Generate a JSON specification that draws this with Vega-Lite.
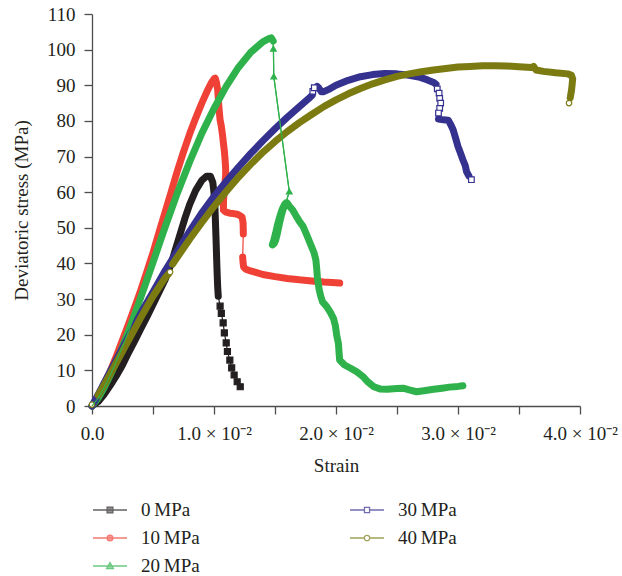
{
  "$schema": "https://vega.github.io/schema/vega-lite/v6.json",
  "width": 488,
  "height": 392,
  "autosize": "none",
  "padding": {"left": 92, "top": 14, "right": 42, "bottom": 170},
  "background": "white",
  "config": {
    "view": {"stroke": null},
    "font": "Liberation Serif",
    "axis": {
      "grid": false,
      "domainColor": "#4d4d4d",
      "domainWidth": 1.3,
      "tickColor": "#4d4d4d",
      "tickWidth": 1.3,
      "tickSize": 8,
      "labelFont": "Liberation Serif",
      "labelFontSize": 19,
      "labelColor": "#231f20",
      "titleFont": "Liberation Serif",
      "titleFontSize": 19,
      "titleFontWeight": "normal",
      "titleColor": "#231f20"
    },
    "legend": {
      "title": null, "orient": "none", "legendX": 0, "legendY": 478,
      "columns": 2, "columnPadding": 147, "rowPadding": -1, "padding": 0,
      "symbolSize": 1156, "symbolStrokeWidth": 1.3, "labelOffset": 13,
      "labelFont": "Liberation Serif", "labelFontSize": 19, "labelColor": "#231f20", "labelLimit": 0
    }
  },
  "data": {
    "values": [
      {"series": "0\u2009MPa", "seg": 1, "strain": 0, "stress": 0},
      {"series": "0\u2009MPa", "seg": 1, "strain": 0.0005, "stress": 1.2},
      {"series": "0\u2009MPa", "seg": 1, "strain": 0.001, "stress": 3.3},
      {"series": "0\u2009MPa", "seg": 1, "strain": 0.0015, "stress": 5.8},
      {"series": "0\u2009MPa", "seg": 1, "strain": 0.002, "stress": 8.5},
      {"series": "0\u2009MPa", "seg": 1, "strain": 0.0025, "stress": 11.5},
      {"series": "0\u2009MPa", "seg": 1, "strain": 0.003, "stress": 15},
      {"series": "0\u2009MPa", "seg": 1, "strain": 0.0035, "stress": 18.3},
      {"series": "0\u2009MPa", "seg": 1, "strain": 0.004, "stress": 21.7},
      {"series": "0\u2009MPa", "seg": 1, "strain": 0.0045, "stress": 25},
      {"series": "0\u2009MPa", "seg": 1, "strain": 0.005, "stress": 28.5},
      {"series": "0\u2009MPa", "seg": 1, "strain": 0.0055, "stress": 32},
      {"series": "0\u2009MPa", "seg": 1, "strain": 0.006, "stress": 35.5},
      {"series": "0\u2009MPa", "seg": 1, "strain": 0.0065, "stress": 40},
      {"series": "0\u2009MPa", "seg": 1, "strain": 0.0068, "stress": 43.5},
      {"series": "0\u2009MPa", "seg": 1, "strain": 0.0072, "stress": 48},
      {"series": "0\u2009MPa", "seg": 1, "strain": 0.0076, "stress": 52.5},
      {"series": "0\u2009MPa", "seg": 1, "strain": 0.008, "stress": 56.5},
      {"series": "0\u2009MPa", "seg": 1, "strain": 0.0085, "stress": 60.5},
      {"series": "0\u2009MPa", "seg": 1, "strain": 0.009, "stress": 63.3},
      {"series": "0\u2009MPa", "seg": 1, "strain": 0.0094, "stress": 64.5},
      {"series": "0\u2009MPa", "seg": 1, "strain": 0.0097, "stress": 64.5},
      {"series": "0\u2009MPa", "seg": 1, "strain": 0.0099, "stress": 62.8},
      {"series": "0\u2009MPa", "seg": 1, "strain": 0.01, "stress": 59.8},
      {"series": "0\u2009MPa", "seg": 1, "strain": 0.01008, "stress": 55.5},
      {"series": "0\u2009MPa", "seg": 1, "strain": 0.01013, "stress": 50.5},
      {"series": "0\u2009MPa", "seg": 1, "strain": 0.01018, "stress": 45.5},
      {"series": "0\u2009MPa", "seg": 1, "strain": 0.01022, "stress": 41},
      {"series": "0\u2009MPa", "seg": 1, "strain": 0.01026, "stress": 37},
      {"series": "0\u2009MPa", "seg": 1, "strain": 0.0103, "stress": 33.5},
      {"series": "0\u2009MPa", "seg": 1, "strain": 0.01035, "stress": 30.8},
      {"series": "0\u2009MPa", "seg": 2, "strain": 0.0105, "stress": 28},
      {"series": "0\u2009MPa", "seg": 3, "strain": 0.0106, "stress": 26},
      {"series": "0\u2009MPa", "seg": 4, "strain": 0.01075, "stress": 23.3},
      {"series": "0\u2009MPa", "seg": 5, "strain": 0.01085, "stress": 20.5},
      {"series": "0\u2009MPa", "seg": 6, "strain": 0.011, "stress": 17.7},
      {"series": "0\u2009MPa", "seg": 7, "strain": 0.0111, "stress": 15.3},
      {"series": "0\u2009MPa", "seg": 8, "strain": 0.0113, "stress": 12.9},
      {"series": "0\u2009MPa", "seg": 9, "strain": 0.01145, "stress": 10.7},
      {"series": "0\u2009MPa", "seg": 10, "strain": 0.01165, "stress": 8.7},
      {"series": "0\u2009MPa", "seg": 11, "strain": 0.0119, "stress": 6.8},
      {"series": "0\u2009MPa", "seg": 12, "strain": 0.01215, "stress": 5.4},

      {"series": "10\u2009MPa", "seg": 1, "strain": 0, "stress": 0},
      {"series": "10\u2009MPa", "seg": 1, "strain": 0.0005, "stress": 2.8},
      {"series": "10\u2009MPa", "seg": 1, "strain": 0.001, "stress": 6},
      {"series": "10\u2009MPa", "seg": 1, "strain": 0.0015, "stress": 9.8},
      {"series": "10\u2009MPa", "seg": 1, "strain": 0.002, "stress": 14},
      {"series": "10\u2009MPa", "seg": 1, "strain": 0.0025, "stress": 18.5},
      {"series": "10\u2009MPa", "seg": 1, "strain": 0.003, "stress": 23},
      {"series": "10\u2009MPa", "seg": 1, "strain": 0.0035, "stress": 27.7},
      {"series": "10\u2009MPa", "seg": 1, "strain": 0.004, "stress": 32.5},
      {"series": "10\u2009MPa", "seg": 1, "strain": 0.0045, "stress": 37.7},
      {"series": "10\u2009MPa", "seg": 1, "strain": 0.005, "stress": 43},
      {"series": "10\u2009MPa", "seg": 1, "strain": 0.00555, "stress": 49.4},
      {"series": "10\u2009MPa", "seg": 1, "strain": 0.006, "stress": 54.5},
      {"series": "10\u2009MPa", "seg": 1, "strain": 0.0065, "stress": 60.2},
      {"series": "10\u2009MPa", "seg": 1, "strain": 0.007, "stress": 66},
      {"series": "10\u2009MPa", "seg": 1, "strain": 0.0075, "stress": 71.3},
      {"series": "10\u2009MPa", "seg": 1, "strain": 0.008, "stress": 76.3},
      {"series": "10\u2009MPa", "seg": 1, "strain": 0.0085, "stress": 80.8},
      {"series": "10\u2009MPa", "seg": 1, "strain": 0.009, "stress": 85},
      {"series": "10\u2009MPa", "seg": 1, "strain": 0.0095, "stress": 88.8},
      {"series": "10\u2009MPa", "seg": 1, "strain": 0.0098, "stress": 90.8},
      {"series": "10\u2009MPa", "seg": 1, "strain": 0.01, "stress": 91.8},
      {"series": "10\u2009MPa", "seg": 1, "strain": 0.0101, "stress": 92},
      {"series": "10\u2009MPa", "seg": 1, "strain": 0.0102, "stress": 90.8},
      {"series": "10\u2009MPa", "seg": 1, "strain": 0.0103, "stress": 88.8},
      {"series": "10\u2009MPa", "seg": 1, "strain": 0.01035, "stress": 86.5},
      {"series": "10\u2009MPa", "seg": 1, "strain": 0.0104, "stress": 84},
      {"series": "10\u2009MPa", "seg": 1, "strain": 0.01045, "stress": 82},
      {"series": "10\u2009MPa", "seg": 1, "strain": 0.0105, "stress": 80.3},
      {"series": "10\u2009MPa", "seg": 1, "strain": 0.0106, "stress": 78.5},
      {"series": "10\u2009MPa", "seg": 1, "strain": 0.0107, "stress": 76},
      {"series": "10\u2009MPa", "seg": 1, "strain": 0.01077, "stress": 73.8},
      {"series": "10\u2009MPa", "seg": 1, "strain": 0.01085, "stress": 71.5},
      {"series": "10\u2009MPa", "seg": 1, "strain": 0.0109, "stress": 69.5},
      {"series": "10\u2009MPa", "seg": 1, "strain": 0.01095, "stress": 67},
      {"series": "10\u2009MPa", "seg": 1, "strain": 0.01096, "stress": 65},
      {"series": "10\u2009MPa", "seg": 1, "strain": 0.0109, "stress": 62.5},
      {"series": "10\u2009MPa", "seg": 1, "strain": 0.01082, "stress": 60},
      {"series": "10\u2009MPa", "seg": 1, "strain": 0.01078, "stress": 57.5},
      {"series": "10\u2009MPa", "seg": 1, "strain": 0.01077, "stress": 55},
      {"series": "10\u2009MPa", "seg": 1, "strain": 0.0109, "stress": 54.6},
      {"series": "10\u2009MPa", "seg": 1, "strain": 0.011, "stress": 54.4},
      {"series": "10\u2009MPa", "seg": 1, "strain": 0.0113, "stress": 54.1},
      {"series": "10\u2009MPa", "seg": 1, "strain": 0.0116, "stress": 54},
      {"series": "10\u2009MPa", "seg": 1, "strain": 0.0119, "stress": 53.8},
      {"series": "10\u2009MPa", "seg": 1, "strain": 0.0121, "stress": 53.5},
      {"series": "10\u2009MPa", "seg": 1, "strain": 0.0123, "stress": 53},
      {"series": "10\u2009MPa", "seg": 1, "strain": 0.01238, "stress": 51.5},
      {"series": "10\u2009MPa", "seg": 1, "strain": 0.0124, "stress": 49.5},
      {"series": "10\u2009MPa", "seg": 1, "strain": 0.0124, "stress": 48.3},
      {"series": "10\u2009MPa", "seg": 2, "strain": 0.01235, "stress": 41.8},
      {"series": "10\u2009MPa", "seg": 2, "strain": 0.01238, "stress": 40.3},
      {"series": "10\u2009MPa", "seg": 2, "strain": 0.01243, "stress": 39},
      {"series": "10\u2009MPa", "seg": 2, "strain": 0.0126, "stress": 38.4},
      {"series": "10\u2009MPa", "seg": 2, "strain": 0.013, "stress": 37.9},
      {"series": "10\u2009MPa", "seg": 2, "strain": 0.0135, "stress": 37.4},
      {"series": "10\u2009MPa", "seg": 2, "strain": 0.014, "stress": 36.9},
      {"series": "10\u2009MPa", "seg": 2, "strain": 0.015, "stress": 36.3},
      {"series": "10\u2009MPa", "seg": 2, "strain": 0.016, "stress": 35.8},
      {"series": "10\u2009MPa", "seg": 2, "strain": 0.017, "stress": 35.4},
      {"series": "10\u2009MPa", "seg": 2, "strain": 0.018, "stress": 35.1},
      {"series": "10\u2009MPa", "seg": 2, "strain": 0.019, "stress": 34.8},
      {"series": "10\u2009MPa", "seg": 2, "strain": 0.02, "stress": 34.6},
      {"series": "10\u2009MPa", "seg": 2, "strain": 0.0203, "stress": 34.5},

      {"series": "20\u2009MPa", "seg": 1, "strain": 0, "stress": 0},
      {"series": "20\u2009MPa", "seg": 1, "strain": 0.0005, "stress": 2.2},
      {"series": "20\u2009MPa", "seg": 1, "strain": 0.001, "stress": 5.2},
      {"series": "20\u2009MPa", "seg": 1, "strain": 0.0015, "stress": 8.7},
      {"series": "20\u2009MPa", "seg": 1, "strain": 0.002, "stress": 12.5},
      {"series": "20\u2009MPa", "seg": 1, "strain": 0.0025, "stress": 16.7},
      {"series": "20\u2009MPa", "seg": 1, "strain": 0.003, "stress": 21},
      {"series": "20\u2009MPa", "seg": 1, "strain": 0.0035, "stress": 25.7},
      {"series": "20\u2009MPa", "seg": 1, "strain": 0.004, "stress": 30.5},
      {"series": "20\u2009MPa", "seg": 1, "strain": 0.0045, "stress": 35.4},
      {"series": "20\u2009MPa", "seg": 1, "strain": 0.005, "stress": 40.3},
      {"series": "20\u2009MPa", "seg": 1, "strain": 0.0057, "stress": 47.3},
      {"series": "20\u2009MPa", "seg": 1, "strain": 0.006, "stress": 50.3},
      {"series": "20\u2009MPa", "seg": 1, "strain": 0.007, "stress": 59.8},
      {"series": "20\u2009MPa", "seg": 1, "strain": 0.008, "stress": 68.5},
      {"series": "20\u2009MPa", "seg": 1, "strain": 0.009, "stress": 76.5},
      {"series": "20\u2009MPa", "seg": 1, "strain": 0.01, "stress": 83.5},
      {"series": "20\u2009MPa", "seg": 1, "strain": 0.011, "stress": 89.7},
      {"series": "20\u2009MPa", "seg": 1, "strain": 0.012, "stress": 95},
      {"series": "20\u2009MPa", "seg": 1, "strain": 0.013, "stress": 99.2},
      {"series": "20\u2009MPa", "seg": 1, "strain": 0.014, "stress": 102.2},
      {"series": "20\u2009MPa", "seg": 1, "strain": 0.0145, "stress": 103.1},
      {"series": "20\u2009MPa", "seg": 1, "strain": 0.0147, "stress": 103.3},
      {"series": "20\u2009MPa", "seg": 1, "strain": 0.01485, "stress": 102.4},
      {"series": "20\u2009MPa", "seg": 2, "strain": 0.01487, "stress": 100.3},
      {"series": "20\u2009MPa", "seg": 3, "strain": 0.0149, "stress": 92.5},
      {"series": "20\u2009MPa", "seg": 4, "strain": 0.01617, "stress": 60.2},
      {"series": "20\u2009MPa", "seg": 5, "strain": 0.0159, "stress": 57},
      {"series": "20\u2009MPa", "seg": 5, "strain": 0.01575, "stress": 56},
      {"series": "20\u2009MPa", "seg": 5, "strain": 0.0156, "stress": 54.5},
      {"series": "20\u2009MPa", "seg": 5, "strain": 0.01545, "stress": 52.5},
      {"series": "20\u2009MPa", "seg": 5, "strain": 0.01532, "stress": 50.5},
      {"series": "20\u2009MPa", "seg": 5, "strain": 0.0152, "stress": 48.5},
      {"series": "20\u2009MPa", "seg": 5, "strain": 0.01505, "stress": 46.5},
      {"series": "20\u2009MPa", "seg": 5, "strain": 0.01492, "stress": 45.5},
      {"series": "20\u2009MPa", "seg": 5, "strain": 0.01478, "stress": 45.2},
      {"series": "20\u2009MPa", "seg": 5, "strain": 0.0149, "stress": 46.5},
      {"series": "20\u2009MPa", "seg": 5, "strain": 0.01505, "stress": 48.5},
      {"series": "20\u2009MPa", "seg": 5, "strain": 0.0152, "stress": 50.8},
      {"series": "20\u2009MPa", "seg": 5, "strain": 0.0154, "stress": 53.2},
      {"series": "20\u2009MPa", "seg": 5, "strain": 0.0156, "stress": 55.3},
      {"series": "20\u2009MPa", "seg": 5, "strain": 0.0158, "stress": 56.7},
      {"series": "20\u2009MPa", "seg": 5, "strain": 0.016, "stress": 57},
      {"series": "20\u2009MPa", "seg": 5, "strain": 0.0162, "stress": 56},
      {"series": "20\u2009MPa", "seg": 5, "strain": 0.01645, "stress": 55},
      {"series": "20\u2009MPa", "seg": 5, "strain": 0.0167, "stress": 53.5},
      {"series": "20\u2009MPa", "seg": 5, "strain": 0.017, "stress": 51.8},
      {"series": "20\u2009MPa", "seg": 5, "strain": 0.0173, "stress": 50.4},
      {"series": "20\u2009MPa", "seg": 5, "strain": 0.0176, "stress": 48},
      {"series": "20\u2009MPa", "seg": 5, "strain": 0.0179, "stress": 45.5},
      {"series": "20\u2009MPa", "seg": 5, "strain": 0.0182, "stress": 43},
      {"series": "20\u2009MPa", "seg": 5, "strain": 0.01835, "stress": 41},
      {"series": "20\u2009MPa", "seg": 5, "strain": 0.01842, "stress": 38.5},
      {"series": "20\u2009MPa", "seg": 5, "strain": 0.01847, "stress": 36.3},
      {"series": "20\u2009MPa", "seg": 5, "strain": 0.0186, "stress": 33},
      {"series": "20\u2009MPa", "seg": 5, "strain": 0.01875, "stress": 30.8},
      {"series": "20\u2009MPa", "seg": 5, "strain": 0.0189, "stress": 29.2},
      {"series": "20\u2009MPa", "seg": 5, "strain": 0.01924, "stress": 27.9},
      {"series": "20\u2009MPa", "seg": 5, "strain": 0.01955, "stress": 26.2},
      {"series": "20\u2009MPa", "seg": 5, "strain": 0.0198, "stress": 24.5},
      {"series": "20\u2009MPa", "seg": 5, "strain": 0.01995, "stress": 22.5},
      {"series": "20\u2009MPa", "seg": 5, "strain": 0.02005, "stress": 20},
      {"series": "20\u2009MPa", "seg": 5, "strain": 0.0202, "stress": 17.5},
      {"series": "20\u2009MPa", "seg": 5, "strain": 0.02025, "stress": 15},
      {"series": "20\u2009MPa", "seg": 5, "strain": 0.0203, "stress": 12.9},
      {"series": "20\u2009MPa", "seg": 5, "strain": 0.0207, "stress": 11.5},
      {"series": "20\u2009MPa", "seg": 5, "strain": 0.0212, "stress": 10.6},
      {"series": "20\u2009MPa", "seg": 5, "strain": 0.0217, "stress": 9.6},
      {"series": "20\u2009MPa", "seg": 5, "strain": 0.0222, "stress": 8.3},
      {"series": "20\u2009MPa", "seg": 5, "strain": 0.0226, "stress": 6.8},
      {"series": "20\u2009MPa", "seg": 5, "strain": 0.0231, "stress": 5.4},
      {"series": "20\u2009MPa", "seg": 5, "strain": 0.0236, "stress": 4.8},
      {"series": "20\u2009MPa", "seg": 5, "strain": 0.0242, "stress": 4.7},
      {"series": "20\u2009MPa", "seg": 5, "strain": 0.025, "stress": 4.9},
      {"series": "20\u2009MPa", "seg": 5, "strain": 0.0255, "stress": 5},
      {"series": "20\u2009MPa", "seg": 5, "strain": 0.026, "stress": 4.5},
      {"series": "20\u2009MPa", "seg": 5, "strain": 0.0266, "stress": 4},
      {"series": "20\u2009MPa", "seg": 5, "strain": 0.0272, "stress": 4.3},
      {"series": "20\u2009MPa", "seg": 5, "strain": 0.028, "stress": 4.7},
      {"series": "20\u2009MPa", "seg": 5, "strain": 0.0287, "stress": 5},
      {"series": "20\u2009MPa", "seg": 5, "strain": 0.0293, "stress": 5.3},
      {"series": "20\u2009MPa", "seg": 5, "strain": 0.03, "stress": 5.5},
      {"series": "20\u2009MPa", "seg": 5, "strain": 0.0304, "stress": 5.7},

      {"series": "30\u2009MPa", "seg": 1, "strain": 0, "stress": 0},
      {"series": "30\u2009MPa", "seg": 1, "strain": 0.0005, "stress": 3.2},
      {"series": "30\u2009MPa", "seg": 1, "strain": 0.001, "stress": 6.5},
      {"series": "30\u2009MPa", "seg": 1, "strain": 0.0015, "stress": 9.8},
      {"series": "30\u2009MPa", "seg": 1, "strain": 0.002, "stress": 13},
      {"series": "30\u2009MPa", "seg": 1, "strain": 0.003, "stress": 19.5},
      {"series": "30\u2009MPa", "seg": 1, "strain": 0.004, "stress": 26},
      {"series": "30\u2009MPa", "seg": 1, "strain": 0.005, "stress": 32},
      {"series": "30\u2009MPa", "seg": 1, "strain": 0.006, "stress": 38},
      {"series": "30\u2009MPa", "seg": 1, "strain": 0.007, "stress": 43.5},
      {"series": "30\u2009MPa", "seg": 1, "strain": 0.008, "stress": 49},
      {"series": "30\u2009MPa", "seg": 1, "strain": 0.009, "stress": 54.2},
      {"series": "30\u2009MPa", "seg": 1, "strain": 0.01, "stress": 58.8},
      {"series": "30\u2009MPa", "seg": 1, "strain": 0.011, "stress": 63},
      {"series": "30\u2009MPa", "seg": 1, "strain": 0.012, "stress": 67},
      {"series": "30\u2009MPa", "seg": 1, "strain": 0.013, "stress": 70.8},
      {"series": "30\u2009MPa", "seg": 1, "strain": 0.014, "stress": 74.4},
      {"series": "30\u2009MPa", "seg": 1, "strain": 0.015, "stress": 77.8},
      {"series": "30\u2009MPa", "seg": 1, "strain": 0.016, "stress": 81},
      {"series": "30\u2009MPa", "seg": 1, "strain": 0.017, "stress": 84},
      {"series": "30\u2009MPa", "seg": 1, "strain": 0.0178, "stress": 86.4},
      {"series": "30\u2009MPa", "seg": 1, "strain": 0.01805, "stress": 87.2},
      {"series": "30\u2009MPa", "seg": 2, "strain": 0.0181, "stress": 88.3},
      {"series": "30\u2009MPa", "seg": 3, "strain": 0.01822, "stress": 89.3},
      {"series": "30\u2009MPa", "seg": 4, "strain": 0.01845, "stress": 89.7},
      {"series": "30\u2009MPa", "seg": 4, "strain": 0.0186, "stress": 89.2},
      {"series": "30\u2009MPa", "seg": 4, "strain": 0.0188, "stress": 88.2},
      {"series": "30\u2009MPa", "seg": 4, "strain": 0.019, "stress": 88.2},
      {"series": "30\u2009MPa", "seg": 4, "strain": 0.0195, "stress": 89},
      {"series": "30\u2009MPa", "seg": 4, "strain": 0.02, "stress": 90},
      {"series": "30\u2009MPa", "seg": 4, "strain": 0.021, "stress": 91.4},
      {"series": "30\u2009MPa", "seg": 4, "strain": 0.022, "stress": 92.4},
      {"series": "30\u2009MPa", "seg": 4, "strain": 0.023, "stress": 93},
      {"series": "30\u2009MPa", "seg": 4, "strain": 0.024, "stress": 93.3},
      {"series": "30\u2009MPa", "seg": 4, "strain": 0.025, "stress": 93.2},
      {"series": "30\u2009MPa", "seg": 4, "strain": 0.026, "stress": 92.8},
      {"series": "30\u2009MPa", "seg": 4, "strain": 0.0269, "stress": 92.2},
      {"series": "30\u2009MPa", "seg": 4, "strain": 0.0275, "stress": 91.5},
      {"series": "30\u2009MPa", "seg": 4, "strain": 0.028, "stress": 90.8},
      {"series": "30\u2009MPa", "seg": 4, "strain": 0.0282, "stress": 90.3},
      {"series": "30\u2009MPa", "seg": 5, "strain": 0.0283, "stress": 89},
      {"series": "30\u2009MPa", "seg": 6, "strain": 0.02845, "stress": 87.8},
      {"series": "30\u2009MPa", "seg": 7, "strain": 0.0285, "stress": 86.3},
      {"series": "30\u2009MPa", "seg": 8, "strain": 0.02858, "stress": 85},
      {"series": "30\u2009MPa", "seg": 9, "strain": 0.0285, "stress": 83.5},
      {"series": "30\u2009MPa", "seg": 10, "strain": 0.0284, "stress": 82.2},
      {"series": "30\u2009MPa", "seg": 11, "strain": 0.0284, "stress": 80.5},
      {"series": "30\u2009MPa", "seg": 11, "strain": 0.0288, "stress": 80.3},
      {"series": "30\u2009MPa", "seg": 11, "strain": 0.0292, "stress": 80.2},
      {"series": "30\u2009MPa", "seg": 11, "strain": 0.0294, "stress": 79},
      {"series": "30\u2009MPa", "seg": 11, "strain": 0.0296, "stress": 77.5},
      {"series": "30\u2009MPa", "seg": 11, "strain": 0.0298, "stress": 75.2},
      {"series": "30\u2009MPa", "seg": 11, "strain": 0.03, "stress": 72.8},
      {"series": "30\u2009MPa", "seg": 11, "strain": 0.0302, "stress": 71},
      {"series": "30\u2009MPa", "seg": 11, "strain": 0.0304, "stress": 69.1},
      {"series": "30\u2009MPa", "seg": 11, "strain": 0.0306, "stress": 67.4},
      {"series": "30\u2009MPa", "seg": 11, "strain": 0.0307, "stress": 65.8},
      {"series": "30\u2009MPa", "seg": 11, "strain": 0.0309, "stress": 64.5},
      {"series": "30\u2009MPa", "seg": 12, "strain": 0.0311, "stress": 63.5},

      {"series": "40\u2009MPa", "seg": 1, "strain": 0, "stress": 0.4},
      {"series": "40\u2009MPa", "seg": 2, "strain": 0.0005, "stress": 3},
      {"series": "40\u2009MPa", "seg": 2, "strain": 0.001, "stress": 6},
      {"series": "40\u2009MPa", "seg": 2, "strain": 0.0015, "stress": 9.1},
      {"series": "40\u2009MPa", "seg": 2, "strain": 0.002, "stress": 12.2},
      {"series": "40\u2009MPa", "seg": 2, "strain": 0.003, "stress": 18.5},
      {"series": "40\u2009MPa", "seg": 2, "strain": 0.004, "stress": 24.8},
      {"series": "40\u2009MPa", "seg": 2, "strain": 0.005, "stress": 30.8},
      {"series": "40\u2009MPa", "seg": 2, "strain": 0.006, "stress": 36},
      {"series": "40\u2009MPa", "seg": 2, "strain": 0.0063, "stress": 37.2},
      {"series": "40\u2009MPa", "seg": 3, "strain": 0.0064, "stress": 37.6},
      {"series": "40\u2009MPa", "seg": 4, "strain": 0.0066, "stress": 39.8},
      {"series": "40\u2009MPa", "seg": 4, "strain": 0.007, "stress": 41.8},
      {"series": "40\u2009MPa", "seg": 4, "strain": 0.008, "stress": 46.8},
      {"series": "40\u2009MPa", "seg": 4, "strain": 0.009, "stress": 51.5},
      {"series": "40\u2009MPa", "seg": 4, "strain": 0.01, "stress": 56},
      {"series": "40\u2009MPa", "seg": 4, "strain": 0.011, "stress": 60.2},
      {"series": "40\u2009MPa", "seg": 4, "strain": 0.012, "stress": 64.2},
      {"series": "40\u2009MPa", "seg": 4, "strain": 0.013, "stress": 67.8},
      {"series": "40\u2009MPa", "seg": 4, "strain": 0.014, "stress": 71.2},
      {"series": "40\u2009MPa", "seg": 4, "strain": 0.015, "stress": 74.2},
      {"series": "40\u2009MPa", "seg": 4, "strain": 0.016, "stress": 77},
      {"series": "40\u2009MPa", "seg": 4, "strain": 0.017, "stress": 79.5},
      {"series": "40\u2009MPa", "seg": 4, "strain": 0.018, "stress": 81.8},
      {"series": "40\u2009MPa", "seg": 4, "strain": 0.019, "stress": 84},
      {"series": "40\u2009MPa", "seg": 4, "strain": 0.02, "stress": 85.9},
      {"series": "40\u2009MPa", "seg": 4, "strain": 0.021, "stress": 87.6},
      {"series": "40\u2009MPa", "seg": 4, "strain": 0.022, "stress": 89.1},
      {"series": "40\u2009MPa", "seg": 4, "strain": 0.023, "stress": 90.4},
      {"series": "40\u2009MPa", "seg": 4, "strain": 0.024, "stress": 91.5},
      {"series": "40\u2009MPa", "seg": 4, "strain": 0.025, "stress": 92.5},
      {"series": "40\u2009MPa", "seg": 4, "strain": 0.026, "stress": 93.2},
      {"series": "40\u2009MPa", "seg": 4, "strain": 0.027, "stress": 93.8},
      {"series": "40\u2009MPa", "seg": 4, "strain": 0.028, "stress": 94.3},
      {"series": "40\u2009MPa", "seg": 4, "strain": 0.029, "stress": 94.7},
      {"series": "40\u2009MPa", "seg": 4, "strain": 0.03, "stress": 95.1},
      {"series": "40\u2009MPa", "seg": 4, "strain": 0.031, "stress": 95.3},
      {"series": "40\u2009MPa", "seg": 4, "strain": 0.032, "stress": 95.5},
      {"series": "40\u2009MPa", "seg": 4, "strain": 0.033, "stress": 95.5},
      {"series": "40\u2009MPa", "seg": 4, "strain": 0.034, "stress": 95.4},
      {"series": "40\u2009MPa", "seg": 4, "strain": 0.035, "stress": 95.2},
      {"series": "40\u2009MPa", "seg": 4, "strain": 0.036, "stress": 95},
      {"series": "40\u2009MPa", "seg": 4, "strain": 0.0362, "stress": 95.3},
      {"series": "40\u2009MPa", "seg": 4, "strain": 0.0364, "stress": 94.3},
      {"series": "40\u2009MPa", "seg": 4, "strain": 0.037, "stress": 93.9},
      {"series": "40\u2009MPa", "seg": 4, "strain": 0.038, "stress": 93.5},
      {"series": "40\u2009MPa", "seg": 4, "strain": 0.039, "stress": 93.2},
      {"series": "40\u2009MPa", "seg": 4, "strain": 0.0393, "stress": 92.8},
      {"series": "40\u2009MPa", "seg": 4, "strain": 0.0394, "stress": 91.8},
      {"series": "40\u2009MPa", "seg": 4, "strain": 0.03935, "stress": 90},
      {"series": "40\u2009MPa", "seg": 4, "strain": 0.0393, "stress": 88.5},
      {"series": "40\u2009MPa", "seg": 4, "strain": 0.0392, "stress": 86.5},
      {"series": "40\u2009MPa", "seg": 5, "strain": 0.0391, "stress": 85}
    ]
  },
  "transform": [
    {"joinaggregate": [{"op": "count", "as": "n"}], "groupby": ["series", "seg"]}
  ],
  "encoding": {
    "x": {
      "field": "strain",
      "type": "quantitative",
      "scale": {"domain": [0, 0.04], "nice": false},
      "axis": {
        "title": "Strain",
        "values": [0, 0.005, 0.01, 0.015, 0.02, 0.025, 0.03, 0.035, 0.04],
        "labelExpr": "abs(datum.value * 100 - round(datum.value * 100)) > 0.01 ? '' : (datum.value == 0 ? '0.0' : format(datum.value * 100, '.1f') + ' × 10⁻²')",
        "labelFlush": false,
        "labelOverlap": false,
        "labelPadding": 10,
        "titleY": 50
      }
    },
    "y": {
      "field": "stress",
      "type": "quantitative",
      "scale": {"domain": [0, 110], "nice": false},
      "axis": {
        "title": "Deviatoric stress (MPa)",
        "values": [0, 10, 20, 30, 40, 50, 60, 70, 80, 90, 100, 110],
        "labelPadding": 9,
        "titleX": -61,
        "titleY": 196
      }
    }
  },
  "layer": [
    {
      "mark": {"type": "line", "strokeWidth": 1.2},
      "encoding": {
        "color": {
          "field": "series", "type": "nominal",
          "scale": {"domain": ["0\u2009MPa", "10\u2009MPa", "20\u2009MPa", "30\u2009MPa", "40\u2009MPa"], "range": ["#231f20", "#ef4136", "#2fb24c", "#35318f", "#7b7b12"]},
          "legend": null
        },
        "order": {"value": null}
      }
    },
    {
      "transform": [{"filter": "datum.n > 1"}],
      "mark": {"type": "line", "strokeWidth": 7, "strokeCap": "round", "strokeJoin": "round"},
      "encoding": {
        "color": {"field": "series", "type": "nominal", "legend": null},
        "detail": {"field": "seg", "type": "nominal"},
        "order": {"value": null}
      }
    },
    {
      "transform": [{"filter": "datum.n == 1"}],
      "mark": {"type": "point", "filled": true, "strokeWidth": 1.2, "opacity": 1},
      "encoding": {
        "shape": {
          "field": "series", "type": "nominal",
          "scale": {"domain": ["0\u2009MPa", "10\u2009MPa", "20\u2009MPa", "30\u2009MPa", "40\u2009MPa"], "range": ["square", "circle", "triangle-up", "square", "circle"]},
          "legend": null
        },
        "fill": {
          "field": "series", "type": "nominal",
          "scale": {"domain": ["0\u2009MPa", "10\u2009MPa", "20\u2009MPa", "30\u2009MPa", "40\u2009MPa"], "range": ["#231f20", "#ef4136", "#2fb24c", "#ffffff", "#ffffff"]},
          "legend": null
        },
        "stroke": {
          "field": "series", "type": "nominal",
          "scale": {"domain": ["0\u2009MPa", "10\u2009MPa", "20\u2009MPa", "30\u2009MPa", "40\u2009MPa"], "range": ["#231f20", "#ef4136", "#2fb24c", "#35318f", "#7b7b12"]},
          "legend": null
        },
        "size": {
          "field": "series", "type": "nominal",
          "scale": {"domain": ["0\u2009MPa", "10\u2009MPa", "20\u2009MPa", "30\u2009MPa", "40\u2009MPa"], "range": [36, 30, 48, 24, 26]},
          "legend": null
        }
      }
    },
    {
      "transform": [{"filter": "datum.series == '20\u2009MPa'"}],
      "mark": {"type": "line", "strokeWidth": 1.2, "color": "#2fb24c"},
      "encoding": {"order": {"value": null}}
    },
    {
      "transform": [{"filter": "datum.stress < -1"}],
      "mark": {"type": "point", "filled": true, "size": 1156, "strokeWidth": 1.3},
      "encoding": {
        "shape": {
          "field": "series", "type": "nominal",
          "scale": {
            "domain": ["0\u2009MPa", "10\u2009MPa", "20\u2009MPa", "30\u2009MPa", "40\u2009MPa"],
            "range": [
              "M-1,0H1M-0.17,-0.17H0.17V0.17H-0.17Z",
              "M-1,0H1M-0.17,0A0.17,0.17,0,1,1,0.17,0A0.17,0.17,0,1,1,-0.17,0Z",
              "M-1,0H1M-0.2,0.15L0,-0.2L0.2,0.15Z",
              "M-1,0H-0.15M0.15,0H1M-0.15,-0.15H0.15V0.15H-0.15Z",
              "M-1,0H-0.16M0.16,0H1M-0.16,0A0.16,0.16,0,1,1,0.16,0A0.16,0.16,0,1,1,-0.16,0Z"
            ]
          }
        },
        "fill": {
          "field": "series", "type": "nominal",
          "scale": {"domain": ["0\u2009MPa", "10\u2009MPa", "20\u2009MPa", "30\u2009MPa", "40\u2009MPa"], "range": ["#231f20", "#ef4136", "#2fb24c", "#ffffff", "#ffffff"]}
        },
        "stroke": {
          "field": "series", "type": "nominal",
          "scale": {"domain": ["0\u2009MPa", "10\u2009MPa", "20\u2009MPa", "30\u2009MPa", "40\u2009MPa"], "range": ["#231f20", "#ef4136", "#2fb24c", "#35318f", "#7b7b12"]}
        }
      }
    }
  ],
  "resolve": {"scale": {"shape": "independent", "fill": "independent", "stroke": "independent", "size": "independent"}}
}
